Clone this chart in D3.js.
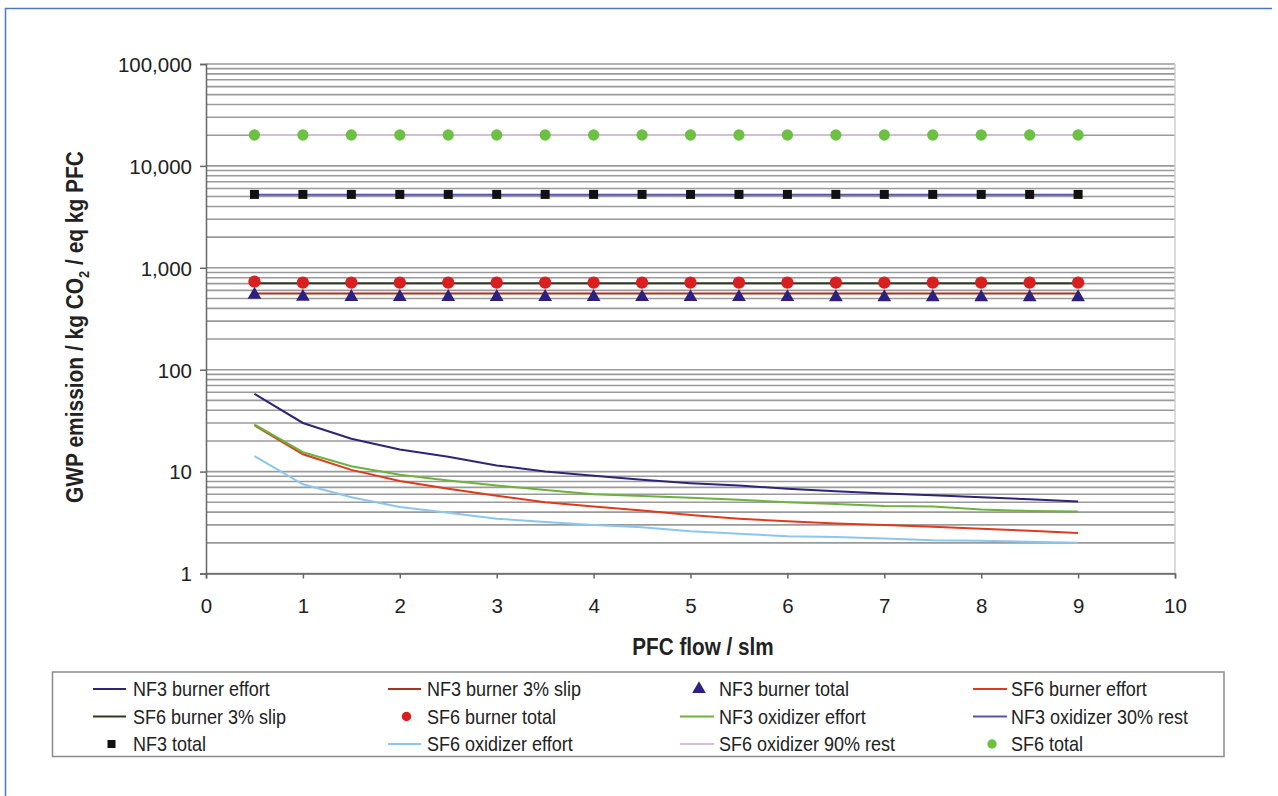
<!DOCTYPE html>
<html>
<head>
<meta charset="utf-8">
<script src="https://cdn.jsdelivr.net/npm/d3@7"></script>
<style>
  html, body { margin: 0; padding: 0; background: #fff; }
  svg { display: block; font-family: "Liberation Sans", Arial, sans-serif; }
</style>
</head>
<body>
<svg id="chart" width="1278" height="796"></svg>
<script>
// ---- data ----
const flows = [0.5, 1, 1.5, 2, 2.5, 3, 3.5, 4, 4.5, 5, 5.5, 6, 6.5, 7, 7.5, 8, 8.5, 9];

const nf3BurnerEffort   = [58, 30, 21, 16.5, 14, 11.5, 10, 9.1, 8.3, 7.7, 7.3, 6.8, 6.4, 6.1, 5.85, 5.6, 5.35, 5.1];
const nf3BurnerSlip     = [560, 560, 560, 560, 560, 560, 560, 560, 560, 560, 560, 560, 560, 560, 560, 560, 560, 560];
const nf3BurnerTotal    = [545, 519, 518, 518, 517, 517, 517, 517, 516, 516, 516, 516, 515, 515, 515, 515, 515, 515];
const sf6BurnerEffort   = [28.5, 14.8, 10.4, 8.1, 6.8, 5.8, 5.0, 4.55, 4.15, 3.75, 3.45, 3.25, 3.1, 3.0, 2.87, 2.75, 2.63, 2.5];
const sf6BurnerSlip     = [705, 705, 705, 705, 705, 705, 705, 705, 705, 705, 705, 705, 705, 705, 705, 705, 705, 705];
const sf6BurnerTotal    = [731, 716, 716, 716, 716, 716, 716, 716, 716, 716, 716, 716, 716, 716, 716, 716, 716, 716];
const nf3OxEffort       = [29, 15.5, 11.3, 9.3, 8.2, 7.3, 6.6, 6.0, 5.75, 5.55, 5.3, 5.0, 4.8, 4.6, 4.55, 4.25, 4.1, 4.05];
const nf3OxRest         = [5200, 5200, 5200, 5200, 5200, 5200, 5200, 5200, 5200, 5200, 5200, 5200, 5200, 5200, 5200, 5200, 5200, 5200];
const nf3Total          = [5250, 5250, 5250, 5250, 5250, 5250, 5250, 5250, 5250, 5250, 5250, 5250, 5250, 5250, 5250, 5250, 5250, 5250];
const sf6OxEffort       = [14.2, 7.5, 5.6, 4.5, 3.95, 3.45, 3.2, 3.0, 2.85, 2.6, 2.45, 2.32, 2.28, 2.2, 2.12, 2.1, 2.05, 2.0];
const sf6OxRest         = [20100, 20100, 20100, 20100, 20100, 20100, 20100, 20100, 20100, 20100, 20100, 20100, 20100, 20100, 20100, 20100, 20100, 20100];
const sf6Total          = [20100, 20100, 20100, 20100, 20100, 20100, 20100, 20100, 20100, 20100, 20100, 20100, 20100, 20100, 20100, 20100, 20100, 20100];

const yMajorTicks = [1, 10, 100, 1000, 10000, 100000];
const xTicks = [0, 1, 2, 3, 4, 5, 6, 7, 8, 9, 10];

const seriesNames = [
  "NF3 burner effort", "NF3 burner 3% slip", "NF3 burner total", "SF6 burner effort",
  "SF6 burner 3% slip", "SF6 burner total", "NF3 oxidizer effort", "NF3 oxidizer 30% rest",
  "NF3 total", "SF6 oxidizer effort", "SF6 oxidizer 90% rest", "SF6 total"
];

// ---- series table (styles separate from values) ----
const series = [
  { name: seriesNames[0],  values: nf3BurnerEffort, type: "line", color: "#2f2477" },
  { name: seriesNames[1],  values: nf3BurnerSlip,   type: "line", color: "#a8321f" },
  { name: seriesNames[2],  values: nf3BurnerTotal,  type: "triangle", color: "#2c2180", size: 82 },
  { name: seriesNames[3],  values: sf6BurnerEffort, type: "line", color: "#de3a1c" },
  { name: seriesNames[4],  values: sf6BurnerSlip,   type: "line", color: "#2c3a22" },
  { name: seriesNames[5],  values: sf6BurnerTotal,  type: "circle", color: "#d7201f", size: 120 },
  { name: seriesNames[6],  values: nf3OxEffort,     type: "line", color: "#6cb23e" },
  { name: seriesNames[7],  values: nf3OxRest,       type: "line", color: "#5555aa" },
  { name: seriesNames[8],  values: nf3Total,        type: "square", color: "#111111", size: 81 },
  { name: seriesNames[9],  values: sf6OxEffort,     type: "line", color: "#8cc6ee" },
  { name: seriesNames[10], values: sf6OxRest,       type: "line", color: "#d6bcd8" },
  { name: seriesNames[11], values: sf6Total,        type: "circle", color: "#6cc143", size: 100 }
];

const svg = d3.select("#chart");

// outer frame
svg.append("path")
  .attr("d", "M5.5,796 L5.5,8.5 L1272,8.5")
  .attr("fill", "none").attr("stroke", "#4a78c2").attr("stroke-width", 1.5);

const x = d3.scaleLinear().domain([0, 10]).range([206, 1175]);
const y = d3.scaleLog().domain([1, 100000]).range([573.5, 64]);

// gridlines
svg.append("g").selectAll("line")
  .data(y.ticks())
  .join("line")
  .attr("x1", x(0)).attr("x2", x(10))
  .attr("y1", d => y(d)).attr("y2", d => y(d))
  .attr("stroke", "#9a9a9a").attr("stroke-width", 1.6);

// right frame of plot
svg.append("line")
  .attr("x1", x(10)).attr("x2", x(10)).attr("y1", y(100000)).attr("y2", y(1))
  .attr("stroke", "#cfcfcf").attr("stroke-width", 1.5);

// axes
const yAxis = svg.append("g")
  .attr("transform", `translate(${x(0)},0)`)
  .call(d3.axisLeft(y).tickValues(yMajorTicks).tickFormat(d3.format(",")).tickSize(6).tickPadding(8));
const xAxis = svg.append("g")
  .attr("transform", `translate(0,${y(1)})`)
  .call(d3.axisBottom(x).tickValues(xTicks).tickFormat(d3.format("d")).tickSize(5).tickPadding(20));

[yAxis, xAxis].forEach(g => {
  g.select(".domain").attr("stroke", "#666").attr("stroke-width", 1.5);
  g.selectAll(".tick line").attr("stroke", "#666").attr("stroke-width", 1.5);
  g.selectAll(".tick text").attr("fill", "#222").style("font-size", "20.5px");
});
yAxis.selectAll(".tick text").attr("dy", "0.36em");

// axis titles (slightly condensed to mimic the original narrow face)
svg.append("text")
  .attr("transform", "translate(703,655) scale(0.9,1)")
  .attr("text-anchor", "middle")
  .style("font-size", "23px").style("font-weight", "bold").attr("fill", "#222")
  .text("PFC flow / slm");

const yt = svg.append("text")
  .attr("transform", "translate(83,327) rotate(-90) scale(0.91,1)")
  .attr("text-anchor", "middle")
  .style("font-size", "23px").style("font-weight", "bold").attr("fill", "#222");
yt.append("tspan").text("GWP emission / kg CO");
yt.append("tspan").attr("dy", 6).style("font-size", "14px").text("2");
yt.append("tspan").attr("dy", -6).text(" / eq kg PFC");

// lines
const line = d3.line().x((d, i) => x(flows[i])).y(d => y(d));
svg.append("g").selectAll("path")
  .data(series.filter(s => s.type === "line"))
  .join("path")
  .attr("d", s => line(s.values))
  .attr("fill", "none")
  .attr("stroke", s => s.color)
  .attr("stroke-width", 2);

// markers
const symbolFor = t => t === "triangle" ? d3.symbolTriangle : (t === "square" ? d3.symbolSquare : d3.symbolCircle);
series.filter(s => s.type !== "line").forEach(s => {
  svg.append("g").selectAll("path")
    .data(s.values)
    .join("path")
    .attr("transform", (d, i) => `translate(${x(flows[i])},${y(d)})`)
    .attr("d", d3.symbol().type(symbolFor(s.type)).size(s.size))
    .attr("fill", s.color);
});

// legend
const legend = svg.append("g");
legend.append("rect")
  .attr("x", 52.5).attr("y", 672).attr("width", 1171.5).attr("height", 84.5)
  .attr("fill", "#fff").attr("stroke", "#8a8a8a").attr("stroke-width", 1.5);

const colX = [{ l0: 93, l1: 126, t: 133 }, { l0: 388, l1: 421, t: 427 },
              { l0: 680, l1: 714, t: 719 }, { l0: 973, l1: 1007, t: 1011 }];
const rowY = [689, 716.5, 744];

series.forEach((s, i) => {
  const c = colX[i % 4], r = rowY[Math.floor(i / 4)];
  const g = legend.append("g");
  if (s.type === "line") {
    g.append("line").attr("x1", c.l0).attr("x2", c.l1).attr("y1", r).attr("y2", r)
      .attr("stroke", s.color).attr("stroke-width", 2);
  } else {
    const sz = s.type === "triangle" ? 80 : (s.type === "square" ? 64 : 70);
    g.append("path")
      .attr("transform", `translate(${(c.l0 + c.l1) / 2 + 2},${r})`)
      .attr("d", d3.symbol().type(symbolFor(s.type)).size(sz))
      .attr("fill", s.color);
  }
  g.append("text")
    .attr("transform", `translate(${c.t},${r}) scale(0.9,1)`)
    .attr("dy", "0.36em")
    .style("font-size", "20px").attr("fill", "#222").text(s.name);
});
</script>
</body>
</html>
